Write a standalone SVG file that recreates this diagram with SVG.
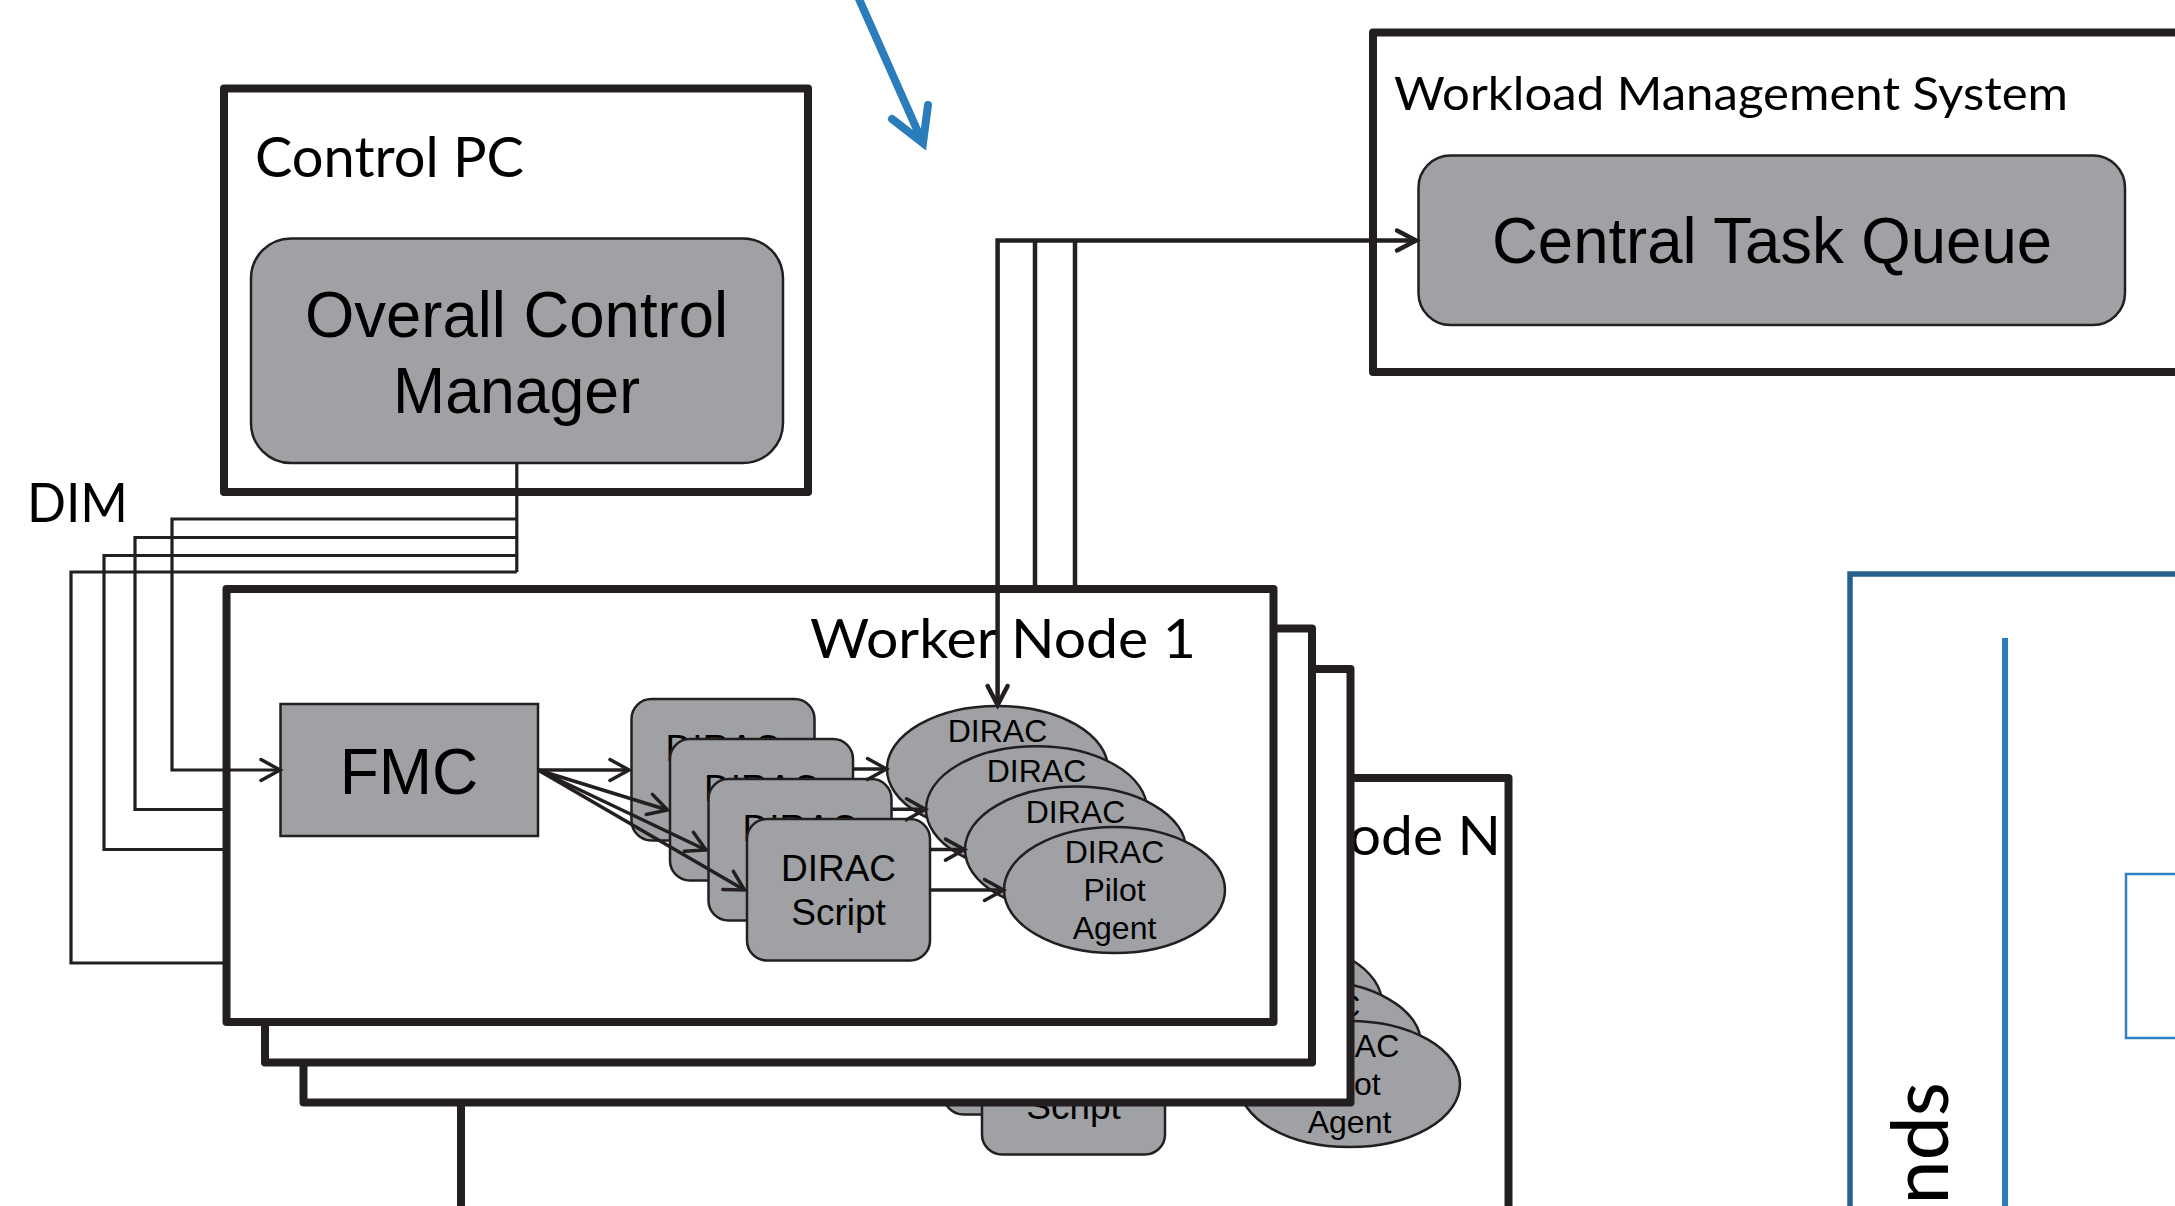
<svg xmlns="http://www.w3.org/2000/svg" xmlns:xlink="http://www.w3.org/1999/xlink" width="2175" height="1206" viewBox="0 0 2175 1206">
  <style>
    .box { fill:#ffffff; stroke:#231f20; stroke-width:8; stroke-linejoin:round; }
    .gray { fill:#a0a1a4; stroke:#231f20; stroke-width:2.5; }
    .arial { font-family:'Liberation Sans', Arial, sans-serif; fill:#000000; }
    .cal { font-family:Lato, 'Open Sans', sans-serif; fill:#000000; }
    .wire { fill:none; stroke:#231f20; stroke-width:3.2; }
    .wireW { fill:none; stroke:#231f20; stroke-width:4.5; }
    .flow { fill:none; stroke:#231f20; stroke-width:3.5; }
    .lbl { font-size:37px; text-anchor:middle; }
    .elbl { font-size:32px; text-anchor:middle; }
  </style>
  <defs>
    <marker id="arr" viewBox="0 0 24 24" refX="21" refY="12" markerWidth="24" markerHeight="24" markerUnits="userSpaceOnUse" orient="auto-start-reverse" overflow="visible">
      <path d="M2,1.5 L21,12 L2,22.5" fill="none" stroke="#231f20" stroke-width="3.5" stroke-linecap="round"/>
    </marker>
    <marker id="arrW" viewBox="0 0 24 24" refX="21" refY="12" markerWidth="24" markerHeight="24" markerUnits="userSpaceOnUse" orient="auto-start-reverse" overflow="visible">
      <path d="M2,2 L21,12 L2,22" fill="none" stroke="#231f20" stroke-width="4.5" stroke-linecap="round"/>
    </marker>
  </defs>

  <rect x="0" y="0" width="2175" height="1206" fill="#ffffff"/>

  <!-- blue pointer at the top -->
  <g id="blue-pointer" fill="none" stroke="#2a7dba" stroke-width="8" stroke-linecap="round">
    <line x1="855" y1="-10" x2="922" y2="141"/>
    <path d="M892,119 L923,143 L928,105" stroke-linejoin="miter"/>
  </g>

  <!-- blue panel on the right -->
  <g id="blue-panel">
    <rect x="1850" y="574" width="420" height="720" fill="none" stroke="#25608f" stroke-width="5.5"/>
    <line x1="2005" y1="638" x2="2005" y2="1230" stroke="#2a7dba" stroke-width="6"/>
    <rect x="2126" y="874" width="120" height="164" fill="none" stroke="#2f82c4" stroke-width="2.5"/>
    <text class="cal" font-size="79" text-anchor="end" transform="translate(1948,1082) rotate(-90)">nds</text>
  </g>

  <!-- Control PC -->
  <g id="control-pc">
    <rect class="box" x="224" y="88.5" width="584" height="403.5"/>
    <text class="cal" x="255" y="177" font-size="56" textLength="269" lengthAdjust="spacingAndGlyphs">Control PC</text>
  </g>
  <g id="overall-control-manager">
    <rect class="gray" x="251" y="238.5" width="532" height="224.5" rx="40" ry="40"/>
    <text class="arial" x="516.5" y="337" font-size="64" text-anchor="middle" textLength="423" lengthAdjust="spacingAndGlyphs">Overall Control</text>
    <text class="arial" x="516.5" y="413" font-size="64" text-anchor="middle" textLength="247" lengthAdjust="spacingAndGlyphs">Manager</text>
  </g>
  <g id="dim-label">
    <text class="cal" x="27" y="522" font-size="55" textLength="101" lengthAdjust="spacingAndGlyphs">DIM</text>
  </g>

  <!-- Workload Management System -->
  <g id="workload-management-system">
    <rect class="box" x="1373" y="32.5" width="860" height="339.5"/>
    <text class="cal" x="1394" y="110" font-size="47" textLength="674" lengthAdjust="spacingAndGlyphs">Workload Management System</text>
  </g>
  <g id="central-task-queue">
    <rect class="gray" x="1418.5" y="155.5" width="706.5" height="169.5" rx="32" ry="32"/>
    <text class="arial" x="1772" y="263" font-size="64" text-anchor="middle" textLength="560" lengthAdjust="spacingAndGlyphs">Central Task Queue</text>
  </g>

  <!-- Worker Node N (rearmost of the stack) -->
  <g id="worker-node-n">
    <rect class="box" x="461" y="778" width="1047.5" height="440"/>
    <text class="cal" x="1106" y="855" font-size="55" textLength="395" lengthAdjust="spacingAndGlyphs">Worker Node N</text>
    <use xlink:href="#wn1-body" transform="translate(235,194)"/>
  </g>

  <!-- intermediate worker nodes -->
  <g id="worker-node-3">
    <rect class="box" x="303.5" y="669" width="1047" height="433.5"/>
  </g>
  <g id="worker-node-2">
    <rect class="box" x="265" y="628.5" width="1047" height="434"/>
  </g>

  <!-- Worker Node 1 -->
  <g id="worker-node-1">
    <rect class="box" x="226.5" y="589" width="1047" height="433"/>
    <text class="cal" x="810" y="658" font-size="55" textLength="386" lengthAdjust="spacingAndGlyphs">Worker Node 1</text>
    <g id="wn1-body">
      <g id="fmc">
        <rect class="gray" x="280.5" y="704" width="257.5" height="132"/>
        <text class="arial" x="409" y="794" font-size="64" text-anchor="middle">FMC</text>
      </g>
      <g id="dirac-script-1">
        <rect class="gray" x="631.5" y="699" width="183" height="141.5" rx="20" ry="20"/>
        <text class="arial lbl" x="723" y="761">DIRAC</text>
        <text class="arial lbl" x="723" y="805">Script</text>
      </g>
      <g id="dirac-script-2">
        <rect class="gray" x="670" y="739" width="183" height="141.5" rx="20" ry="20"/>
        <text class="arial lbl" x="761.5" y="801">DIRAC</text>
        <text class="arial lbl" x="761.5" y="845">Script</text>
      </g>
      <g id="dirac-script-3">
        <rect class="gray" x="708.5" y="779" width="183" height="141.5" rx="20" ry="20"/>
        <text class="arial lbl" x="800" y="841">DIRAC</text>
        <text class="arial lbl" x="800" y="885">Script</text>
      </g>
      <g id="dirac-script-4">
        <rect class="gray" x="747" y="819" width="183" height="141.5" rx="20" ry="20"/>
        <text class="arial lbl" x="838.5" y="881">DIRAC</text>
        <text class="arial lbl" x="838.5" y="925">Script</text>
      </g>
      <g id="pilot-agent-1">
        <ellipse class="gray" cx="997.5" cy="769" rx="110.5" ry="63"/>
        <text class="arial elbl" x="997.5" y="742">DIRAC</text>
        <text class="arial elbl" x="997.5" y="780">Pilot</text>
        <text class="arial elbl" x="997.5" y="818">Agent</text>
      </g>
      <g id="pilot-agent-2">
        <ellipse class="gray" cx="1036.5" cy="809.3" rx="110.5" ry="63"/>
        <text class="arial elbl" x="1036.5" y="782.3">DIRAC</text>
        <text class="arial elbl" x="1036.5" y="820.3">Pilot</text>
        <text class="arial elbl" x="1036.5" y="858.3">Agent</text>
      </g>
      <g id="pilot-agent-3">
        <ellipse class="gray" cx="1075.5" cy="849.6" rx="110.5" ry="63"/>
        <text class="arial elbl" x="1075.5" y="822.6">DIRAC</text>
        <text class="arial elbl" x="1075.5" y="860.6">Pilot</text>
        <text class="arial elbl" x="1075.5" y="898.6">Agent</text>
      </g>
      <g id="pilot-agent-4">
        <ellipse class="gray" cx="1114.5" cy="890" rx="110.5" ry="63"/>
        <text class="arial elbl" x="1114.5" y="863">DIRAC</text>
        <text class="arial elbl" x="1114.5" y="901">Pilot</text>
        <text class="arial elbl" x="1114.5" y="939">Agent</text>
      </g>
    </g>
  </g>

  <!-- connectors -->
  <g id="connectors">
    <!-- DIM links from the control manager to every FMC -->
    <path class="wire" d="M516.8,463 V572"/>
    <path class="wire" d="M516.8,519 H172 V770 H280" marker-end="url(#arr)"/>
    <path class="wire" d="M516.8,537.5 H135 V809.5 H226"/>
    <path class="wire" d="M516.8,555.5 H104 V849.5 H226"/>
    <path class="wire" d="M516.8,572 H71 V963 H226"/>
    <!-- pilot agents talking to the task queue -->
    <path class="wireW" d="M997.6,705 V240.5 H1416" marker-start="url(#arrW)" marker-end="url(#arrW)"/>
    <path class="wireW" d="M1035,240.5 V586"/>
    <path class="wireW" d="M1075,240.5 V586"/>
    <!-- FMC starts the scripts -->
    <path class="flow" d="M538,770 H629" marker-end="url(#arr)"/>
    <path class="flow" d="M538,770 L667.5,810" marker-end="url(#arr)"/>
    <path class="flow" d="M538,770 L706,850" marker-end="url(#arr)"/>
    <path class="flow" d="M538,770 L744.5,890" marker-end="url(#arr)"/>
    <!-- scripts launch the pilot agents -->
    <path class="flow" d="M853,769 H886.5" marker-end="url(#arr)"/>
    <path class="flow" d="M891.5,809.3 H925.5" marker-end="url(#arr)"/>
    <path class="flow" d="M930,849.6 H964.5" marker-end="url(#arr)"/>
    <path class="flow" d="M930,890 H1003.5" marker-end="url(#arr)"/>
  </g>
</svg>
